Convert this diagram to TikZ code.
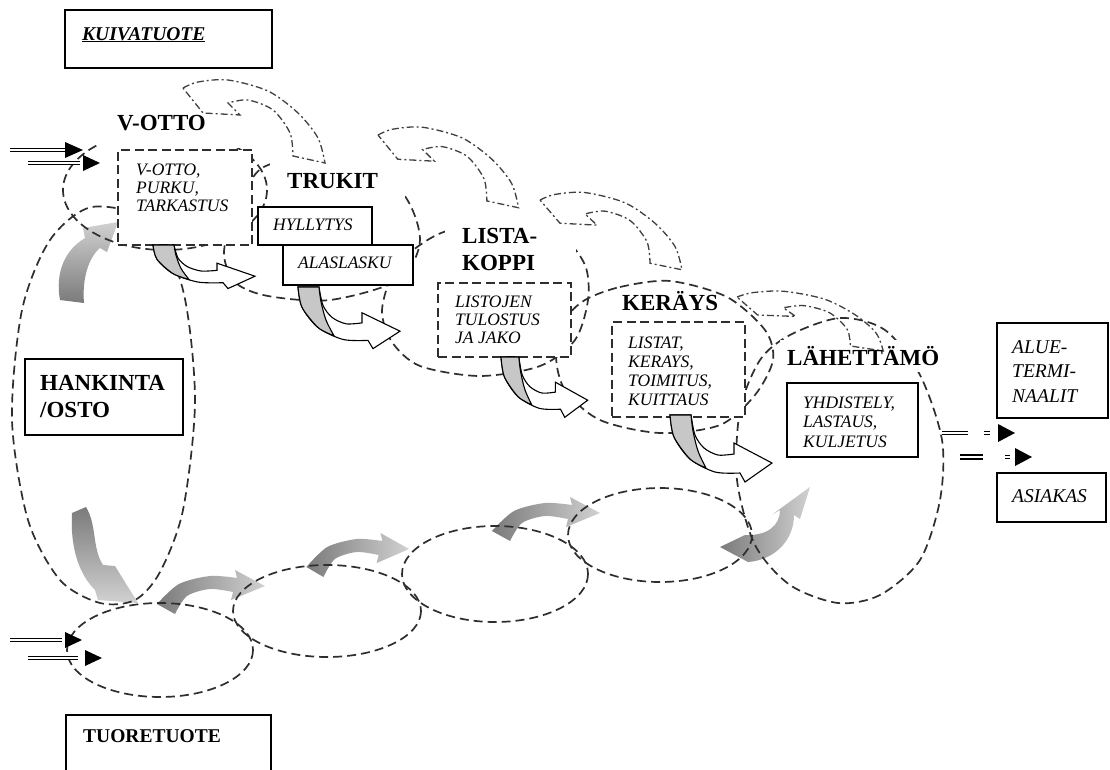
\documentclass[tikz,border=0pt]{standalone}
\usepackage{fontspec}
\setmainfont{Liberation Serif}
\usetikzlibrary{calc}

\definecolor{inkgray}{gray}{0.18}
\definecolor{tailgray}{gray}{0.48}
\definecolor{headgray}{gray}{0.82}
\definecolor{facegray}{gray}{0.78}
\definecolor{loopgray}{gray}{0.25}

\newcommand{\stagefont}{\fontsize{23}{27}\selectfont\bfseries}
\newcommand{\taskfont}{\fontsize{17.5}{18.5}\selectfont\itshape}
\newcommand{\tasklines}[2]{\parbox[t]{160pt}{\raggedright\baselineskip=#1pt #2}}

\tikzset{
  bubble/.style={draw=inkgray, line width=1.7pt, dash pattern=on 9pt off 5pt},
  taskbox/.style={draw=black, line width=1.5pt, fill=white, inner sep=0pt},
  dtaskbox/.style={draw=inkgray, line width=1.7pt, dash pattern=on 9pt off 4.5pt, fill=white, inner sep=0pt},
  stagetxt/.style={anchor=base west, inner sep=0pt, font=\stagefont},
  tasktxt/.style={anchor=base west, inner sep=0pt, font=\taskfont},
  feedback/.style={draw=loopgray, line width=1.3pt, dash pattern=on 7pt off 3pt on 2pt off 3pt},
  flowline/.style={draw=black, double=white, line width=1.3pt, double distance=2pt},
  flowhead/.style={fill=black},
  % curled block arrow leaving the bottom of a task box
  uturn/.pic={
    \path[fill=white, draw=black, line width=1.1pt]
      plot[smooth] coordinates {(0,0) (4,22) (20,44) (45,57) (70,58)}
      -- (75,67) -- (102,48) -- (64,28) -- (64,39)
      -- plot[smooth] coordinates {(64,39) (48,40) (34,33) (25,20) (21,0)} -- cycle;
    \path[fill=facegray, draw=black, line width=1.1pt]
      plot[smooth] coordinates {(0,0) (4,22) (20,44) (36,53)}
      -- plot[smooth] coordinates {(36,53) (28,36) (23,16) (21,0)} -- cycle;
  },
  % shaded arrow rising between the fresh-product stages
  risearc/.pic={
    \shade[left color=tailgray, right color=headgray]
      plot[smooth] coordinates {(-8,-4) (14,-24) (45,-32) (72,-30)}
      -- (70,-38) -- (100,-22) -- (66,-8) -- (68,-16)
      -- plot[smooth] coordinates {(68,-16) (45,-19) (22,-12) (10,6)} -- cycle;
  },
  % dash-dotted return arrow from one stage to the previous one
  backloop/.pic={
    \draw[feedback]
      plot[smooth] coordinates {(0,0) (15,-6) (45,-8) (85,3) (115,25) (135,50) (142,75)}
      -- (110,68)
      -- plot[smooth] coordinates {(110,68) (107,45) (90,22) (65,12) (45,15)}
      -- (57,27) -- (20,25) -- cycle;
  }
}

\begin{document}
\begin{tikzpicture}[x=1pt, y=-1pt]
\useasboundingbox (0,0) rectangle (1110,769);
\fill[white] (0,0) rectangle (1110,769);

% ---- shaded flow arrows (below the bubbles) ----
\pic at (165,608) {risearc};
\pic[xscale=0.95] at (314,571) {risearc};
\pic at (500,535) {risearc};
\shade[left color=tailgray, right color=headgray]
  (720,547) -- (745,535) .. controls (768,536) and (780,525) .. (780,510)
  -- (773,514) -- (810,487) -- (800,519) -- (794,515)
  .. controls (794,540) and (775,560) .. (748,562) -- cycle;
\shade[top color=headgray, bottom color=tailgray]
  (60,300) .. controls (55,272) and (65,250) .. (85,238) -- (83,228) -- (118,222)
  -- (107,252) -- (100,248) .. controls (88,258) and (82,280) .. (84,303) -- cycle;
\shade[top color=tailgray, bottom color=headgray]
  (72,513) -- (86,507) .. controls (97,525) and (92,548) .. (103,565) -- (115,566)
  -- (138,603) -- (98,600) -- (95,590) .. controls (80,575) and (70,550) .. (72,513) -- cycle;

% ---- stage bubbles ----
\draw[bubble] plot[smooth cycle] coordinates {(92,207) (150,222) (183,290) (195,400) (183,510)
  (160,572) (135,600) (100,603) (60,580) (28,520) (12,420) (22,310) (50,240)};
\draw[bubble] (165,190) ellipse [x radius=102, y radius=60];
\draw[bubble] plot[smooth cycle] coordinates {(268,165) (335,152) (400,190) (420,240) (398,280)
  (330,300) (268,296) (236,283) (224,255) (232,215) (248,185)};
\draw[bubble] plot[smooth cycle] coordinates {(382,310) (395,268) (420,245) (450,230) (510,222)
  (560,235) (585,265) (588,300) (575,340) (540,366) (480,376) (420,366) (392,342)};
\draw[bubble] plot[smooth cycle] coordinates {(585,300) (620,287) (670,281) (727,297) (765,330)
  (773,360) (755,395) (720,425) (660,433) (600,420) (565,390) (556,355) (565,320)};
\draw[bubble] plot[smooth cycle] coordinates {(790,335) (840,318) (885,330) (920,375) (942,440)
  (940,500) (920,560) (880,595) (838,603) (790,585) (755,545) (737,480) (740,410) (760,360)};
\draw[bubble] (160,650) ellipse [x radius=93, y radius=47];
\draw[bubble] (327,611) ellipse [x radius=94, y radius=46];
\draw[bubble] (495,574) ellipse [x radius=93, y radius=48];
\draw[bubble] (660,535) ellipse [x radius=92, y radius=47];

% ---- white grounds under the stage titles ----
\fill[white] (100,100) rectangle (258,148);
\fill[white] (270,145) rectangle (405,205);
\fill[white] (445,212) rectangle (576,282);
\fill[white] (780,340) rectangle (950,372);

% ---- boxes ----
\node[taskbox, minimum width=207pt, minimum height=58pt] (kuivabox) at (168.5,39) {};
\node[taskbox, minimum width=205pt, minimum height=65pt] (tuorebox) at (168.5,747.5) {};
\node[dtaskbox, minimum width=134pt, minimum height=95pt] (vottobox) at (185,197.5) {};
\node[taskbox, minimum width=114pt, minimum height=38pt] (hyllybox) at (315,226) {};
\node[taskbox, minimum width=130pt, minimum height=40pt] (alasbox) at (348,265) {};
\node[dtaskbox, minimum width=133pt, minimum height=74pt] (listojbox) at (504.5,320) {};
\node[dtaskbox, minimum width=133pt, minimum height=95pt] (listatbox) at (678.5,369.5) {};
\node[taskbox, minimum width=131pt, minimum height=74pt] (yhdisbox) at (852.5,420) {};
\node[taskbox, minimum width=111pt, minimum height=95pt] (aluebox) at (1052.5,370.5) {};
\node[taskbox, minimum width=109pt, minimum height=49pt] (asiakasbox) at (1051.5,497.5) {};
\node[taskbox, minimum width=158pt, minimum height=76pt] (hankbox) at (104,397) {};

% ---- curled arrows out of the task boxes ----
\pic[yscale=0.65] at (153,245) {uturn};
\pic[yscale=0.92] at (298,287) {uturn};
\pic[xscale=0.85, yscale=0.9] at (501,357) {uturn};
\pic at (670,415) {uturn};

% ---- dash-dotted return arrows ----
\pic at (183,88) {backloop};
\pic[xscale=0.99, yscale=0.97] at (378,135) {backloop};
\pic[yscale=0.93] at (540,200) {backloop};
\pic[xscale=1.03, yscale=0.72] at (737,297) {backloop};

% ---- texts ----
\node[anchor=base west, inner sep=0pt, font=\fontsize{19.5}{22}\selectfont\bfseries\itshape]
  (kuivatxt) at (82,40) {\underline{KUIVATUOTE}};
\node[anchor=base west, inner sep=0pt, font=\fontsize{19.5}{22}\selectfont\bfseries]
  (tuoretxt) at (83,742) {TUORETUOTE};

\node[stagetxt] (vottolbl) at (117,130) {V-OTTO};
\node[stagetxt] (trukitlbl) at (287,188) {TRUKIT};
\node[stagetxt] (listalbl) at (462,243) {\tasklines{27}{LISTA-\\KOPPI}};
\node[stagetxt] (keraylbl) at (622,310) {KERÄYS};
\node[stagetxt] (lahlbl) at (787,365) {LÄHETTÄMÖ};
\node[stagetxt] (hanklbl) at (40,390) {\tasklines{27}{HANKINTA\\/OSTO}};

\node[tasktxt] (vottotxt) at (136,175) {\tasklines{18}{V-OTTO,\\PURKU,\\TARKASTUS}};
\node[tasktxt] (hyllytxt) at (273,230) {HYLLYTYS};
\node[tasktxt] (alastxt) at (298,268) {ALASLASKU};
\node[tasktxt] (listojtxt) at (455,307) {\tasklines{18}{LISTOJEN\\TULOSTUS\\JA JAKO}};
\node[tasktxt] (listattxt) at (628,348) {\tasklines{19}{LISTAT,\\KERAYS,\\TOIMITUS,\\KUITTAUS}};
\node[tasktxt] (yhdistxt) at (803,408) {\tasklines{19.5}{YHDISTELY,\\LASTAUS,\\KULJETUS}};
\node[tasktxt, font=\fontsize{19.5}{22}\selectfont\itshape] (aluetxt) at (1012,353)
  {\tasklines{24.5}{ALUE-\\TERMI-\\NAALIT}};
\node[tasktxt, font=\fontsize{19.5}{22}\selectfont\itshape] (asiakastxt) at (1012,502) {ASIAKAS};

% ---- incoming and outgoing flows ----
\coordinate (dryin1) at (10,150);
\coordinate (dryin2) at (28,163);
\coordinate (freshin1) at (10,640);
\coordinate (freshin2) at (28,658);
\coordinate (out1) at (942,433);
\coordinate (out2) at (960,457);

\draw[flowline] (dryin1) -- ++(55,0);
\fill[flowhead] ($(dryin1)+(55,-8)$) -- ($(dryin1)+(73,0)$) -- ($(dryin1)+(55,8)$) -- cycle;
\draw[flowline] (dryin2) -- ++(52,0);
\fill[flowhead] ($(dryin2)+(55,-8)$) -- ($(dryin2)+(72,0)$) -- ($(dryin2)+(55,8)$) -- cycle;

\draw[flowline] (freshin1) -- ++(52,0);
\fill[flowhead] ($(freshin1)+(55,-8)$) -- ($(freshin1)+(72,0)$) -- ($(freshin1)+(55,8)$) -- cycle;
\draw[flowline] (freshin2) -- ++(50,0);
\fill[flowhead] ($(freshin2)+(57,-8)$) -- ($(freshin2)+(74,0)$) -- ($(freshin2)+(57,8)$) -- cycle;

\draw[flowline] (out1) -- ++(26,0);
\draw[flowline] ($(out1)+(42,0)$) -- ++(6,0);
\fill[flowhead] ($(out1)+(56,-9)$) -- ($(out1)+(73,0)$) -- ($(out1)+(56,9)$) -- cycle;
\draw[flowline, line width=1.7pt] (out2) -- ++(23,0);
\draw[flowline] ($(out2)+(45,0)$) -- ++(5,0);
\fill[flowhead] ($(out2)+(55,-9)$) -- ($(out2)+(72,0)$) -- ($(out2)+(55,9)$) -- cycle;
\end{tikzpicture}
\end{document}
